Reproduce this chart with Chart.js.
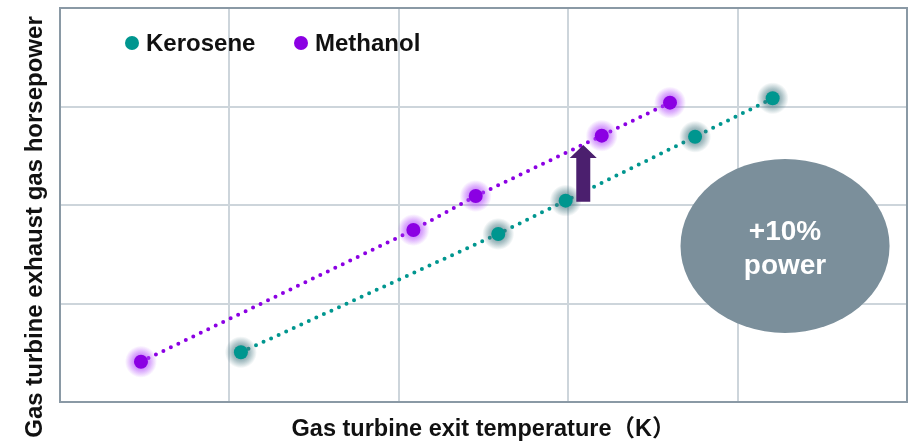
<!DOCTYPE html>
<html><head><meta charset="utf-8">
<script src="https://cdn.jsdelivr.net/npm/chart.js@4.4.1/dist/chart.umd.min.js"></script>
<style>html,body{margin:0;padding:0;background:#fff}#wrap{width:908px;height:441px}</style>
</head><body><div id="wrap"><canvas id="c" width="908" height="441"></canvas></div>
<script>
// ---- data (arbitrary units; axes carry no tick labels) ----
const seriesNames = ['Kerosene', 'Methanol'];
const keroseneTemp  = [1.068, 2.587, 2.985, 3.749, 4.207];
const kerosenePower = [0.505, 1.706, 2.044, 2.693, 3.083];
const methanolTemp  = [0.478, 2.086, 2.454, 3.198, 3.601];
const methanolPower = [0.409, 1.746, 2.091, 2.704, 3.039];
const xTicks = [0, 1, 2, 3, 4, 5];
const yTicks = [0, 1, 2, 3, 4];
const xTitle = 'Gas turbine exit temperature（K）';
const yTitle = 'Gas turbine exhaust gas horsepower';
const calloutLines = ['+10%', 'power'];
// annotation anchors in data units
const arrowAt = { x: 3.089, from: 2.033, to: 2.609 };
const calloutAt = { x: 4.28, y: 1.584, rx: 0.617, ry: 0.883 };

const FONT = '"Liberation Sans", Arial, "Noto Sans CJK JP", sans-serif';
const KERO = '#00968f', METH = '#8b00e3';
const GRID = '#cdd5db', BORDER = '#8a99a5';

const pts = (xs, ys) => xs.map((x, i) => ({ x, y: ys[i] }));

// soft halo behind each marker, placed at the library-computed point positions
const glowPlugin = {
  id: 'glow',
  beforeDatasetDraw(chart, args) {
    const ds = chart.data.datasets[args.index];
    if (!ds.glowRGB) return;
    const ctx = chart.ctx;
    ctx.save();
    args.meta.data.forEach(el => {
      const g = ctx.createRadialGradient(el.x, el.y, 4, el.x, el.y, 16);
      g.addColorStop(0, 'rgba(' + ds.glowRGB + ',0.75)');
      g.addColorStop(0.45, 'rgba(' + ds.glowRGB + ',0.45)');
      g.addColorStop(1, 'rgba(' + ds.glowRGB + ',0)');
      ctx.fillStyle = g;
      ctx.beginPath();
      ctx.arc(el.x, el.y, 16, 0, Math.PI * 2);
      ctx.fill();
    });
    ctx.restore();
  }
};

const framePlugin = {
  id: 'frame',
  beforeDatasetsDraw(chart) {
    const { ctx, chartArea: a } = chart;
    ctx.save();
    ctx.strokeStyle = BORDER;
    ctx.lineWidth = 2;
    ctx.strokeRect(a.left, a.top, a.right - a.left, a.bottom - a.top);
    ctx.restore();
  }
};

const annotPlugin = {
  id: 'annot',
  afterDatasetsDraw(chart) {
    const { ctx, scales: { x, y } } = chart;
    ctx.save();
    // arrow
    const ax = x.getPixelForValue(arrowAt.x);
    const yb = y.getPixelForValue(arrowAt.from);
    const yt = y.getPixelForValue(arrowAt.to);
    const headH = 13, headW = 13.5, bodyW = 7;
    ctx.fillStyle = '#4b1f6e';
    ctx.beginPath();
    ctx.moveTo(ax - bodyW, yb);
    ctx.lineTo(ax - bodyW, yt + headH);
    ctx.lineTo(ax - headW, yt + headH);
    ctx.lineTo(ax, yt);
    ctx.lineTo(ax + headW, yt + headH);
    ctx.lineTo(ax + bodyW, yt + headH);
    ctx.lineTo(ax + bodyW, yb);
    ctx.closePath();
    ctx.fill();
    // ellipse callout
    const cx = x.getPixelForValue(calloutAt.x), cy = y.getPixelForValue(calloutAt.y);
    const rx = x.getPixelForValue(calloutAt.x + calloutAt.rx) - cx;
    const ry = cy - y.getPixelForValue(calloutAt.y + calloutAt.ry);
    ctx.fillStyle = '#7b8f9b';
    ctx.beginPath();
    ctx.ellipse(cx, cy, rx, ry, 0, 0, Math.PI * 2);
    ctx.fill();
    ctx.fillStyle = '#ffffff';
    ctx.font = 'bold 28px ' + FONT;
    ctx.textAlign = 'center';
    ctx.textBaseline = 'middle';
    ctx.fillText(calloutLines[0], cx, cy - 14);
    ctx.fillText(calloutLines[1], cx, cy + 20);
    ctx.restore();
  }
};

const legendPlugin = {
  id: 'insideLegend',
  afterDraw(chart) {
    const { ctx, chartArea: a } = chart;
    const colors = [KERO, METH];
    const starts = [a.left + 72, a.left + 241];
    const ly = a.top + 35;
    ctx.save();
    ctx.font = 'bold 24px ' + FONT;
    ctx.textBaseline = 'middle';
    ctx.textAlign = 'left';
    seriesNames.forEach((n, i) => {
      ctx.fillStyle = colors[i];
      ctx.beginPath();
      ctx.arc(starts[i], ly, 7, 0, Math.PI * 2);
      ctx.fill();
      ctx.fillStyle = '#111111';
      ctx.fillText(n, starts[i] + 14, ly + 1);
    });
    ctx.restore();
  }
};

const yTitlePlugin = {
  id: 'yTitle',
  afterDraw(chart) {
    const { ctx } = chart;
    ctx.save();
    ctx.translate(35, 227);
    ctx.rotate(-Math.PI / 2);
    ctx.font = 'bold 24px ' + FONT;
    ctx.fillStyle = '#111111';
    ctx.textAlign = 'center';
    ctx.textBaseline = 'middle';
    ctx.fillText(yTitle, 0, 0);
    ctx.restore();
  }
};

new Chart(document.getElementById('c'), {
  type: 'scatter',
  data: {
    datasets: [
      { label: seriesNames[0], data: pts(keroseneTemp, kerosenePower), showLine: false,
        pointRadius: 7, pointBackgroundColor: KERO, pointBorderWidth: 0, glowRGB: '70,120,130' },
      { label: seriesNames[1], data: pts(methanolTemp, methanolPower), showLine: false,
        pointRadius: 7, pointBackgroundColor: METH, pointBorderWidth: 0, glowRGB: '175,70,250' },
      { label: seriesNames[0] + ' trend', data: pts(keroseneTemp, kerosenePower), showLine: true,
        borderColor: KERO, borderWidth: 4, borderDash: [0, 8.3], borderCapStyle: 'round', pointRadius: 0, tension: 0 },
      { label: seriesNames[1] + ' trend', data: pts(methanolTemp, methanolPower), showLine: true,
        borderColor: METH, borderWidth: 4, borderDash: [0, 8.3], borderCapStyle: 'round', pointRadius: 0, tension: 0 }
    ]
  },
  options: {
    responsive: false,
    animation: false,
    devicePixelRatio: 1,
    events: [],
    layout: { autoPadding: false, padding: { top: 8, right: 1, left: 0, bottom: 0 } },
    plugins: { legend: { display: false }, tooltip: { enabled: false } },
    scales: {
      x: {
        type: 'linear', min: xTicks[0], max: xTicks[xTicks.length - 1],
        afterBuildTicks: s => { s.ticks = xTicks.map(v => ({ value: v })); },
        ticks: { display: false },
        grid: { color: GRID, lineWidth: 2, drawTicks: false },
        border: { color: BORDER, width: 2 },
        title: { display: true, text: xTitle, color: '#111111', padding: 0,
                 font: { family: FONT, size: 23.5, weight: 'bold', lineHeight: 1 } },
        afterFit: s => { s.height = 39; }
      },
      y: {
        type: 'linear', min: yTicks[0], max: yTicks[yTicks.length - 1],
        afterBuildTicks: s => { s.ticks = yTicks.map(v => ({ value: v })); },
        ticks: { display: false },
        grid: { color: GRID, lineWidth: 2, drawTicks: false },
        border: { color: BORDER, width: 2 },
        afterFit: s => { s.width = 60; }
      }
    }
  },
  plugins: [glowPlugin, framePlugin, annotPlugin, legendPlugin, yTitlePlugin]
});
</script>
</body></html>
